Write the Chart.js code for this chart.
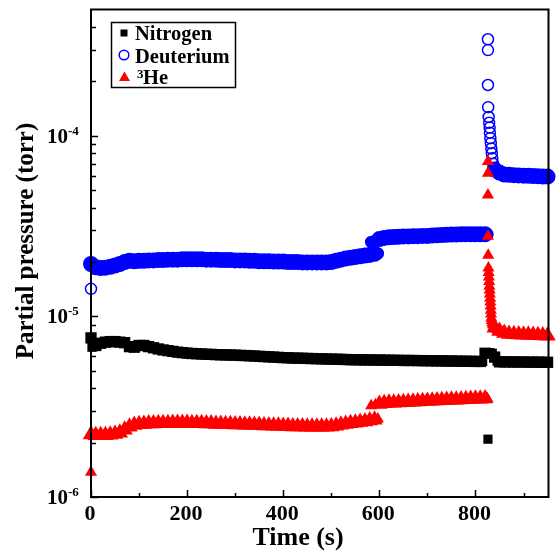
<!DOCTYPE html>
<html>
<head>
<meta charset="utf-8">
<script src="https://cdn.jsdelivr.net/npm/chart.js@4/dist/chart.umd.min.js"></script>
<style>
  body { margin: 0; background: #fff; }
  #wrap { width: 558px; height: 554px; }
</style>
</head>
<body>
<div id="wrap"><canvas id="pressureChart" width="558" height="554"></canvas></div>
<script>
// sampled times (s), shared by the three gauges
const time = [
    0, 10, 20, 30, 40, 50, 60, 70, 80, 90,
    100, 110, 120, 130, 140, 150, 160, 170, 180, 190,
    200, 210, 220, 230, 240, 250, 260, 270, 280, 290,
    300, 310, 320, 330, 340, 350, 360, 370, 380, 390,
    400, 410, 420, 430, 440, 450, 460, 470, 480, 490,
    500, 510, 520, 530, 540, 550, 560, 570, 580, 590,
    600, 610, 620, 630, 640, 650, 660, 670, 680, 690,
    700, 710, 720, 730, 740, 750, 760, 770, 780, 790,
    800, 810, 820, 830, 840, 850, 860, 870, 880, 890,
    900, 910, 920, 930, 940, 950
];

const nitrogen = [
    7.6e-6, 6.9e-6, 7.1e-6, 7.2e-6, 7.25e-6, 7.25e-6, 7.2e-6, 7.15e-6, 6.8e-6, 6.75e-6,
    6.9e-6, 6.9e-6, 6.8e-6, 6.7e-6, 6.6e-6, 6.52e-6, 6.46e-6, 6.4e-6, 6.34e-6, 6.3e-6,
    6.26e-6, 6.23e-6, 6.21e-6, 6.19e-6, 6.17e-6, 6.16e-6, 6.14e-6, 6.13e-6, 6.12e-6, 6.11e-6,
    6.1e-6, 6.08e-6, 6.07e-6, 6.05e-6, 6.03e-6, 6.01e-6, 5.99e-6, 5.97e-6, 5.95e-6, 5.93e-6,
    5.91e-6, 5.9e-6, 5.88e-6, 5.87e-6, 5.86e-6, 5.85e-6, 5.84e-6, 5.83e-6, 5.82e-6, 5.81e-6,
    5.8e-6, 5.79e-6, 5.78e-6, 5.77e-6, 5.76e-6, 5.75e-6, 5.75e-6, 5.74e-6, 5.74e-6, 5.73e-6,
    5.73e-6, 5.72e-6, 5.72e-6, 5.71e-6, 5.71e-6, 5.7e-6, 5.7e-6, 5.7e-6, 5.69e-6, 5.69e-6,
    5.68e-6, 5.68e-6, 5.67e-6, 5.67e-6, 5.66e-6, 5.66e-6, 5.65e-6, 5.65e-6, 5.64e-6, 5.64e-6,
    5.63e-6, 5.63e-6, 6.25e-6, 6.3e-6, 5.95e-6, 5.6e-6, 5.6e-6, 5.6e-6, 5.59e-6, 5.59e-6,
    5.59e-6, 5.58e-6, 5.58e-6, 5.58e-6, 5.57e-6, 5.57e-6
];

const deuterium = [
    1.95e-5, 1.87e-5, 1.85e-5, 1.86e-5, 1.88e-5, 1.91e-5, 1.95e-5, 2.0e-5, 2.03e-5, 2.02e-5,
    2.03e-5, 2.03e-5, 2.04e-5, 2.04e-5, 2.05e-5, 2.05e-5, 2.06e-5, 2.06e-5, 2.06e-5, 2.07e-5,
    2.07e-5, 2.07e-5, 2.07e-5, 2.07e-5, 2.06e-5, 2.06e-5, 2.06e-5, 2.05e-5, 2.05e-5, 2.05e-5,
    2.04e-5, 2.04e-5, 2.04e-5, 2.03e-5, 2.03e-5, 2.02e-5, 2.02e-5, 2.02e-5, 2.01e-5, 2.01e-5,
    2.01e-5, 2.0e-5, 2.0e-5, 2.0e-5, 1.99e-5, 1.99e-5, 1.99e-5, 1.99e-5, 1.99e-5, 1.99e-5,
    2.0e-5, 2.03e-5, 2.06e-5, 2.09e-5, 2.11e-5, 2.13e-5, 2.15e-5, 2.17e-5, 2.19e-5, 2.22e-5,
    2.68e-5, 2.72e-5, 2.74e-5, 2.75e-5, 2.76e-5, 2.77e-5, 2.77e-5, 2.78e-5, 2.78e-5, 2.79e-5,
    2.79e-5, 2.8e-5, 2.81e-5, 2.82e-5, 2.83e-5, 2.84e-5, 2.84e-5, 2.85e-5, 2.85e-5, 2.85e-5,
    2.85e-5, 2.85e-5, 2.85e-5, 1.04e-4, 6.5e-5, 6.25e-5, 6.1e-5, 6.08e-5, 6.05e-5, 6.03e-5,
    6.01e-5, 6.0e-5, 5.98e-5, 5.97e-5, 5.95e-5, 5.94e-5
];

const helium3 = [
    2.22e-6, 2.2e-6, 2.2e-6, 2.2e-6, 2.21e-6, 2.23e-6, 2.27e-6, 2.36e-6, 2.45e-6, 2.5e-6,
    2.53e-6, 2.54e-6, 2.55e-6, 2.55e-6, 2.56e-6, 2.56e-6, 2.56e-6, 2.57e-6, 2.57e-6, 2.57e-6,
    2.57e-6, 2.56e-6, 2.56e-6, 2.56e-6, 2.55e-6, 2.55e-6, 2.54e-6, 2.54e-6, 2.53e-6, 2.53e-6,
    2.52e-6, 2.52e-6, 2.51e-6, 2.51e-6, 2.5e-6, 2.5e-6, 2.49e-6, 2.49e-6, 2.48e-6, 2.48e-6,
    2.47e-6, 2.47e-6, 2.46e-6, 2.46e-6, 2.46e-6, 2.45e-6, 2.45e-6, 2.45e-6, 2.45e-6, 2.45e-6,
    2.46e-6, 2.48e-6, 2.51e-6, 2.54e-6, 2.56e-6, 2.58e-6, 2.6e-6, 2.62e-6, 2.65e-6, 2.68e-6,
    3.27e-6, 3.3e-6, 3.32e-6, 3.33e-6, 3.34e-6, 3.35e-6, 3.36e-6, 3.37e-6, 3.38e-6, 3.39e-6,
    3.4e-6, 3.41e-6, 3.42e-6, 3.43e-6, 3.44e-6, 3.45e-6, 3.46e-6, 3.47e-6, 3.48e-6, 3.49e-6,
    3.5e-6, 3.5e-6, 3.51e-6, 1.33e-5, 8.65e-6, 8.3e-6, 8.1e-6, 8.0e-6, 7.97e-6, 7.94e-6,
    7.92e-6, 7.9e-6, 7.88e-6, 7.86e-6, 7.84e-6, 7.82e-6
];

// extra readings between the 10 s samples (start-up, step near 590 s, gas pulse at ~826 s)
const nitrogenExtraTime = [2, 5, 815, 825, 835, 845, 826];
const nitrogenExtra = [6.75e-6, 6.8e-6, 5.63e-6, 6.3e-6, 6.25e-6, 5.65e-6, 2.09e-6];

const deuteriumExtraTime = [0, 583, 592, 597, 825, 826, 826, 826, 826.5, 827.5, 828.5, 829.5,
    831, 832, 833, 834, 835, 837, 844, 855];
const deuteriumExtra = [1.42e-5, 2.58e-5, 2.62e-5, 2.23e-5, 2.84e-5, 3.42e-4, 2.98e-4, 1.91e-4, 1.44e-4, 1.27e-4, 1.18e-4, 1.11e-4,
    9.7e-5, 9.1e-5, 8.5e-5, 8.0e-5, 7.5e-5, 7.0e-5, 6.35e-5, 6.15e-5];

const helium3ExtraTime = [0, 583, 592, 597, 825, 826, 826, 826, 826, 826.5, 827, 827.5, 828, 828.5, 829, 829.5,
    830.5, 831, 831.5, 832, 832.5, 833, 834, 835, 836.5, 838, 840, 842, 846, 855];
const helium3Extra = [1.37e-6, 3.2e-6, 3.24e-6, 2.7e-6, 3.5e-6, 7.2e-5, 6.2e-5, 4.7e-5, 2.78e-5, 2.18e-5, 1.85e-5, 1.75e-5, 1.65e-5, 1.56e-5, 1.47e-5, 1.4e-5,
    1.26e-5, 1.2e-5, 1.14e-5, 1.08e-5, 1.03e-5, 9.8e-6, 9.5e-6, 9.2e-6, 9.0e-6, 8.8e-6, 8.7e-6, 8.55e-6, 8.4e-6, 8.2e-6];

const xMajorTicks = [0, 200, 400, 600, 800];
const xMinorTicks = [100, 300, 500, 700, 900];
const yMajorTicks = [1e-6, 1e-5, 1e-4];
const yMajorLabels = ['-6', '-5', '-4'];
const yMinorTicks = [2e-6, 3e-6, 4e-6, 5e-6, 6e-6, 7e-6, 8e-6, 9e-6,
    2e-5, 3e-5, 4e-5, 5e-5, 6e-5, 7e-5, 8e-5, 9e-5, 2e-4, 3e-4, 4e-4];

const seriesNames = ['Nitrogen', 'Deuterium', 'He'];

function toPoints(xs, ys, extraX, extraY) {
    const pts = xs.map((t, i) => ({ x: t, y: ys[i] }));
    extraX.forEach((t, i) => pts.push({ x: t, y: extraY[i] }));
    return pts;
}

// the 10 s samples stand for a densely sampled, noisy trace: draw them a bit larger,
// except inside the gas pulse where single readings are visible
const bandSize = (big, small) => c =>
    (c.dataIndex < time.length && !(c.raw && c.raw.x > 824 && c.raw.x < 838)) ? big : small;

const SERIF = '"Liberation Serif", "Times New Roman", serif';

const framePlugin = {
    id: 'frame',
    afterDraw(chart) {
        const ctx = chart.ctx;
        const a = chart.chartArea;
        const xs = chart.scales.x;
        const ys = chart.scales.y;
        ctx.save();
        ctx.strokeStyle = '#000';
        ctx.fillStyle = '#000';
        ctx.lineWidth = 2;
        ctx.strokeRect(a.left, a.top, a.right - a.left, a.bottom - a.top);

        // inward ticks
        ctx.lineWidth = 1.5;
        ctx.beginPath();
        xMajorTicks.forEach(v => {
            const px = Math.round(xs.getPixelForValue(v)) + 0.5;
            ctx.moveTo(px, a.bottom); ctx.lineTo(px, a.bottom - 7);
        });
        xMinorTicks.forEach(v => {
            const px = Math.round(xs.getPixelForValue(v)) + 0.5;
            ctx.moveTo(px, a.bottom); ctx.lineTo(px, a.bottom - 4);
        });
        yMajorTicks.forEach(v => {
            const py = Math.round(ys.getPixelForValue(v)) + 0.5;
            ctx.moveTo(a.left, py); ctx.lineTo(a.left + 7, py);
        });
        yMinorTicks.forEach(v => {
            const py = Math.round(ys.getPixelForValue(v)) + 0.5;
            ctx.moveTo(a.left, py); ctx.lineTo(a.left + 5, py);
        });
        ctx.stroke();

        // tick labels
        ctx.font = 'bold 22px ' + SERIF;
        ctx.textAlign = 'center';
        ctx.textBaseline = 'alphabetic';
        xMajorTicks.forEach(v => {
            ctx.fillText(String(v), xs.getPixelForValue(v) - 1, a.bottom + 23);
        });
        yMajorTicks.forEach((v, i) => {
            const py = ys.getPixelForValue(v);
            ctx.font = 'bold 21px ' + SERIF;
            ctx.textAlign = 'right';
            ctx.fillText('10', 68, py + 7);
            ctx.font = 'bold 13px ' + SERIF;
            ctx.textAlign = 'left';
            ctx.fillText(yMajorLabels[i], 68, py - 1);
        });

        // axis titles
        ctx.font = 'bold 26px ' + SERIF;
        ctx.textAlign = 'center';
        ctx.fillText('Time (s)', 298, 545);
        ctx.save();
        ctx.translate(33, 241);
        ctx.rotate(-Math.PI / 2);
        ctx.font = 'bold 25px ' + SERIF;
        ctx.fillText('Partial pressure (torr)', 0, 0);
        ctx.restore();

        // legend box
        ctx.lineWidth = 1.5;
        ctx.strokeRect(111.5, 22.5, 124, 65);
        ctx.fillStyle = '#000';
        ctx.fillRect(120.5, 29.5, 7, 7);
        ctx.strokeStyle = '#0000ff';
        ctx.beginPath();
        ctx.arc(124, 55, 4.8, 0, Math.PI * 2);
        ctx.stroke();
        ctx.fillStyle = '#ff0000';
        ctx.beginPath();
        ctx.moveTo(124.5, 71.5); ctx.lineTo(130, 81); ctx.lineTo(119, 81);
        ctx.closePath();
        ctx.fill();

        ctx.fillStyle = '#000';
        ctx.textAlign = 'left';
        ctx.font = 'bold 20.5px ' + SERIF;
        ctx.fillText(seriesNames[0], 135, 40);
        ctx.fillText(seriesNames[1], 135, 62.5);
        ctx.fillText(seriesNames[2], 143, 83.5);
        ctx.font = 'bold 13px ' + SERIF;
        ctx.fillText('3', 137, 78);
        ctx.restore();
    }
};

const ctx = document.getElementById('pressureChart').getContext('2d');

new Chart(ctx, {
    type: 'scatter',
    data: {
        datasets: [
            {
                label: '3He',
                data: toPoints(time, helium3, helium3ExtraTime, helium3Extra),
                pointStyle: 'triangle',
                pointRadius: bandSize(9.5, 7),
                backgroundColor: '#ff0000',
                borderColor: '#ff0000',
                borderWidth: 0,
                clip: false
            },
            {
                label: 'Nitrogen',
                data: toPoints(time, nitrogen, nitrogenExtraTime, nitrogenExtra),
                pointStyle: 'rect',
                pointRadius: bandSize(8, 6.5),
                backgroundColor: '#000',
                borderColor: '#000',
                borderWidth: 0,
                clip: false
            },
            {
                label: 'Deuterium',
                data: toPoints(time, deuterium, deuteriumExtraTime, deuteriumExtra),
                pointStyle: 'circle',
                pointRadius: bandSize(7, 5.5),
                borderColor: '#0000ff',
                borderWidth: bandSize(2, 1.5),
                // dense band reads as solid; isolated readings stay hollow
                backgroundColor: c => (c.raw && c.raw.y > 1.6e-5 && c.raw.y < 7e-5) ? '#0000ff' : 'rgba(0,0,0,0)',
                clip: false
            }
        ]
    },
    options: {
        responsive: false,
        animation: false,
        devicePixelRatio: 1,
        events: [],
        layout: { padding: { left: 91, top: 7, right: 3, bottom: 57 } },
        scales: {
            x: { type: 'linear', min: 0, max: 952, display: false },
            y: { type: 'logarithmic', min: 1e-6, max: 5e-4, display: false }
        },
        plugins: {
            legend: { display: false },
            tooltip: { enabled: false }
        }
    },
    plugins: [framePlugin]
});
</script>
</body>
</html>
